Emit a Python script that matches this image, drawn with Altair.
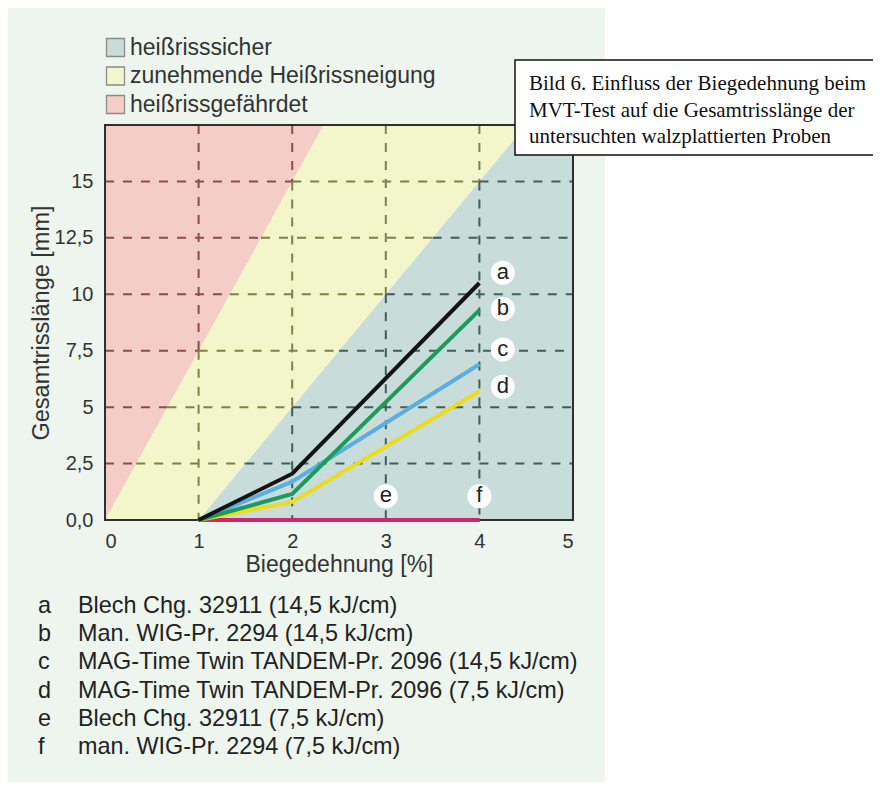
import altair as alt
import pandas as pd

# ---------------- data ----------------
strain = [1, 2, 4]                       # Biegedehnung [%]
curve_a = [0.0, 2.05, 10.5]
curve_b = [0.0, 1.15, 9.3]
curve_c = [0.0, 1.7, 6.9]
curve_d = [0.0, 0.8, 5.7]
curve_e = [0.0, 0.0, 0.0]
curve_f = [0.0, 0.0, 0.0]
series_ids = ["a", "b", "c", "d", "e", "f"]
series_colors = ["#141414", "#1f9a5d", "#5aaee0", "#ebdc1e", "#d3246e", "#d3246e"]
series_desc = [
    "Blech  Chg. 32911 (14,5 kJ/cm)",
    "Man. WIG-Pr. 2294 (14,5 kJ/cm)",
    "MAG-Time Twin TANDEM-Pr. 2096 (14,5 kJ/cm)",
    "MAG-Time Twin TANDEM-Pr. 2096 (7,5 kJ/cm)",
    "Blech  Chg. 32911 (7,5 kJ/cm)",
    "man. WIG-Pr. 2294 (7,5 kJ/cm)",
]
label_x = [4.25, 4.25, 4.25, 4.25, 3.0, 4.0]
label_y = [10.95, 9.35, 7.55, 5.9, 1.05, 1.05]

zone_names = ["heißrisssicher", "zunehmende Heißrissneigung", "heißrissgefährdet"]
zone_colors = ["#c8dcd9", "#f3f5cb", "#f4cec6"]
grid_colors = ["#415e59", "#80804a", "#8c4d49"]
safe_x, safe_lo, safe_hi = [1, 4.5, 5], [0, 0, 0], [0, 17.5, 17.5]
tend_x, tend_lo, tend_hi = [0, 1, 2.333, 4.5], [0, 0, 6.667, 17.5], [0, 7.5, 17.5, 17.5]
risk_x, risk_lo, risk_hi = [0, 2.333], [0, 17.5], [17.5, 17.5]

x_ticks = [0, 1, 2, 3, 4, 5]
y_ticks = [0, 2.5, 5, 7.5, 10, 12.5, 15]
x_grid = [1, 2, 3, 4]
y_grid = [2.5, 5, 7.5, 10, 12.5, 15]
X_MAX, Y_MAX = 5, 17.5

caption_lines = [
    "Bild 6. Einfluss der Biegedehnung beim",
    "MVT-Test auf die Gesamtrisslänge der",
    "untersuchten walzplattierten Proben",
]

# ---------------- layout ----------------
W, H = 468, 395
FONT = "Liberation Sans"
TXT = "#333333"

xs = alt.Scale(domain=[0, X_MAX], nice=False, zero=False)
ys = alt.Scale(domain=[0, Y_MAX], nice=False, zero=False)

# background panel
panel = alt.Chart(pd.DataFrame({"k": [0]})).mark_rect(color="#eef5ee").encode(
    x=alt.value(-99), x2=alt.value(500), y=alt.value(-119), y2=alt.value(700)
)

# zones
zone_rows = []
for name, xx, lo, hi in [
    (zone_names[0], safe_x, safe_lo, safe_hi),
    (zone_names[1], tend_x, tend_lo, tend_hi),
    (zone_names[2], risk_x, risk_lo, risk_hi),
]:
    for a, b, c in zip(xx, lo, hi):
        zone_rows.append({"zone": name, "x": a, "lo": b, "hi": c})
zones_df = pd.DataFrame(zone_rows)

zones = alt.Chart(zones_df).mark_area(opacity=1, interpolate="linear").encode(
    x=alt.X("x:Q", scale=xs, axis=alt.Axis(
        values=x_ticks, format="d", grid=False, ticks=False, domain=False, zindex=1,
        labelFont=FONT, labelFontSize=20, labelColor=TXT, labelPadding=11,
        title="Biegedehnung [%]", titleFont=FONT, titleFontSize=23,
        titleFontWeight="normal", titleColor=TXT, titlePadding=2)),
    y=alt.Y("lo:Q", scale=ys, axis=alt.Axis(
        values=y_ticks, grid=False, ticks=False, domain=False, zindex=1,
        labelExpr="datum.value == 0 ? '0,0' : replace(toString(datum.value), '.', ',')",
        labelFont=FONT, labelFontSize=20, labelColor=TXT, labelPadding=12,
        title="Gesamtrisslänge [mm]", titleFont=FONT, titleFontSize=23.5,
        titleFontWeight="normal", titleColor=TXT, titlePadding=1)),
    y2="hi:Q",
    color=alt.Color("zone:N", scale=alt.Scale(domain=zone_names, range=zone_colors),
                    legend=alt.Legend(
                        orient="none", legendX=-1, legendY=-89, title=None,
                        symbolType="square", symbolSize=324, symbolOpacity=1,
                        symbolStrokeColor="#8c8c8c", symbolStrokeWidth=1.3,
                        labelFont=FONT, labelFontSize=23, labelColor=TXT,
                        labelOffset=3, rowPadding=3.5, padding=0, labelLimit=0,
                        zindex=1)),
)

# grid: split each grid line where it crosses the zone boundaries
def y_on_risk(x):   # red / yellow boundary
    return risk_lo[0] + (risk_lo[1] - risk_lo[0]) * (x - risk_x[0]) / (risk_x[1] - risk_x[0])

def y_on_safe(x):   # yellow / blue boundary
    return safe_hi[0] + (safe_hi[1] - safe_hi[0]) * (x - safe_x[0]) / (safe_x[1] - safe_x[0])

def x_on_risk(y):
    return risk_x[0] + (y - risk_lo[0]) * (risk_x[1] - risk_x[0]) / (risk_lo[1] - risk_lo[0])

def x_on_safe(y):
    return safe_x[0] + (y - safe_hi[0]) * (safe_x[1] - safe_x[0]) / (safe_hi[1] - safe_hi[0])

def clamp(v, lo, hi):
    return max(lo, min(hi, v))

grid_rows = []
for g in y_grid:
    xr = clamp(x_on_risk(g), 0, X_MAX)
    xb = clamp(x_on_safe(g), 0, X_MAX)
    for zone, a, b in [(zone_names[2], 0, xr), (zone_names[1], xr, xb), (zone_names[0], xb, X_MAX)]:
        if b - a > 1e-6:
            grid_rows.append({"zone": zone, "x": a, "x2": b, "y": g, "y2": g})
for v in x_grid:
    yb = clamp(y_on_safe(v), 0, Y_MAX)
    yr = clamp(y_on_risk(v), 0, Y_MAX)
    for zone, a, b in [(zone_names[2], yr, Y_MAX), (zone_names[1], yb, yr), (zone_names[0], 0, yb)]:
        if b - a > 1e-6:
            grid_rows.append({"zone": zone, "x": v, "x2": v, "y": b, "y2": a})
grid_df = pd.DataFrame(grid_rows)

grid = alt.Chart(grid_df).mark_rule(strokeDash=[9, 9], strokeWidth=2).encode(
    x=alt.X("x:Q", scale=xs), x2="x2:Q",
    y=alt.Y("y:Q", scale=ys), y2="y2:Q",
    stroke=alt.Stroke("zone:N", scale=alt.Scale(domain=zone_names, range=grid_colors), legend=None),
)

frame = alt.Chart(pd.DataFrame({"k": [0]})).mark_rect(
    fillOpacity=0, stroke="#2f2f2f", strokeWidth=2
).encode(x=alt.value(0), x2=alt.value(W), y=alt.value(0), y2=alt.value(H))

# curves (drawn f..a so that a ends on top)
curves = {"a": curve_a, "b": curve_b, "c": curve_c, "d": curve_d, "e": curve_e, "f": curve_f}
line_rows = []
for sid in reversed(series_ids):
    for xv, yv in zip(strain, curves[sid]):
        line_rows.append({"series": sid, "x": xv, "y": yv})
lines_df = pd.DataFrame(line_rows)

lines = alt.Chart(lines_df).mark_line(strokeWidth=4, strokeCap="butt", strokeJoin="miter").encode(
    x=alt.X("x:Q", scale=xs),
    y=alt.Y("y:Q", scale=ys),
    detail="series:N",
    stroke=alt.Stroke("series:N", scale=alt.Scale(domain=series_ids, range=series_colors), legend=None),
)

# curve labels
lab_df = pd.DataFrame({"series": series_ids, "x": label_x, "y": label_y})
lab_circ = alt.Chart(lab_df).mark_circle(size=580, color="white", opacity=1).encode(
    x=alt.X("x:Q", scale=xs), y=alt.Y("y:Q", scale=ys))
lab_txt = alt.Chart(lab_df).mark_text(font=FONT, fontSize=22, color="#222222", baseline="middle", dy=-1).encode(
    x=alt.X("x:Q", scale=xs), y=alt.Y("y:Q", scale=ys), text="series:N")

# bottom key
key_df = pd.DataFrame({"letter": series_ids, "desc": series_desc, "idx": list(range(len(series_ids)))})
key_base = alt.Chart(key_df).transform_calculate(py="481 + datum.idx * 28.2")
key_letter = key_base.mark_text(font=FONT, fontSize=23.4, color="#222222", align="left", baseline="middle").encode(
    x=alt.value(-67), y=alt.Y("py:Q", scale=None), text="letter:N")
key_desc = key_base.mark_text(font=FONT, fontSize=23.4, color="#222222", align="left", baseline="middle").encode(
    x=alt.value(-27), y=alt.Y("py:Q", scale=None), text="desc:N")

# caption box
cap_box = alt.Chart(pd.DataFrame({"k": [0]})).mark_rect(
    fill="white", stroke="#111111", strokeWidth=1.5
).encode(x=alt.value(410), x2=alt.value(790), y=alt.value(-65), y2=alt.value(30))
cap_df = pd.DataFrame({"line": caption_lines, "idx": [0, 1, 2]})
cap_txt = alt.Chart(cap_df).transform_calculate(py="-41 + datum.idx * 26.5").mark_text(
    font="Liberation Serif", fontSize=21, color="#111111", align="left", baseline="middle"
).encode(x=alt.value(424), y=alt.Y("py:Q", scale=None), text="line:N")

chart = alt.layer(
    panel, zones, grid, frame, lines, lab_circ, lab_txt,
    key_letter, key_desc, cap_box, cap_txt
).resolve_scale(stroke="independent").properties(
    width=W, height=H,
    autosize=alt.AutoSizeParams(type="none"),
    padding={"left": 97, "top": 117, "right": 300, "bottom": 262},
    background="white",
).configure_view(stroke=None)

chart.save("out.html", embed_options={"renderer": "svg", "actions": False})
